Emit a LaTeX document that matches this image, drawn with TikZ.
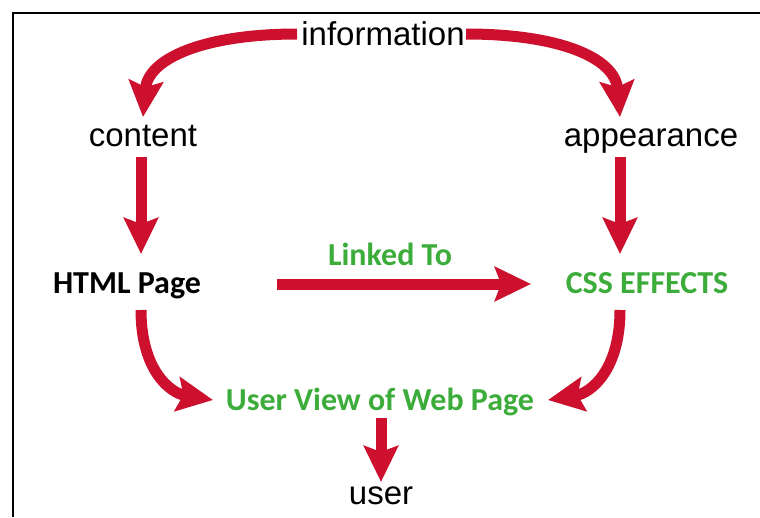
\documentclass[tikz,border=0pt]{standalone}
\usepackage{fontspec}
\setmainfont{Liberation Sans}
\newfontfamily\calib{Carlito}[BoldFont={Carlito Bold}]
\usetikzlibrary{arrows.meta}
\definecolor{arrred}{RGB}{204,16,46}
\definecolor{txtgreen}{RGB}{60,172,58}
\tikzset{
  plain/.style={anchor=base, inner sep=0pt, font=\fontsize{33}{38}\selectfont},
  boldtxt/.style={anchor=base, inner sep=0pt, font=\calib\bfseries\fontsize{32}{38}\selectfont},
  greentxt/.style={boldtxt, text=txtgreen},
  bigarrow/.style={draw=arrred, line width=11pt, -{Stealth[length=36pt,width=34pt,inset=6pt,fill=arrred]}}
}
\begin{document}
\begin{tikzpicture}[x=1pt,y=-1pt]
\useasboundingbox (0,0) rectangle (760,517);
\fill[white] (0,0) rectangle (760,517);
\draw[line width=2pt, black] (12.5,517) -- (12.5,12.5) -- (760,12.5);

\node[plain] (info) at (383,45) {information};
\node[plain] (content) at (143,146) {content};
\node[plain] (appear) at (651,146) {appearance};
\node[boldtxt] (html) at (127,293) {HTML Page};
\node[greentxt] (linked) at (390,265) {Linked To};
\node[greentxt] (css) at (647,293) {CSS EFFECTS};
\node[greentxt] (view) at (380,410) {User View of Web Page};
\node[plain] (user) at (381,504) {user};

\coordinate (infoL) at (297,34);
\coordinate (infoR) at (466,34);
\coordinate (contTop) at (143,117);
\coordinate (appTop) at (620,117);
\coordinate (contBot) at (141,157);
\coordinate (appBot) at (620,157);
\coordinate (htmlTop) at (141,254);
\coordinate (cssTop) at (620,254);
\coordinate (htmlR) at (277,284);
\coordinate (cssL) at (531,284);
\coordinate (htmlBot) at (141,310);
\coordinate (cssBot) at (620,310);
\coordinate (viewL) at (213,400);
\coordinate (viewR) at (548,400);
\coordinate (viewBot) at (381,418);
\coordinate (userTop) at (381,482);

\draw[bigarrow] (infoL) .. controls (205,34) and (148,58) .. (contTop);
\draw[bigarrow] (infoR) .. controls (560,34) and (615,58) .. (appTop);
\draw[bigarrow] (contBot) -- (htmlTop);
\draw[bigarrow] (appBot) -- (cssTop);
\draw[bigarrow] (htmlR) -- (cssL);
\draw[bigarrow] (htmlBot) .. controls (141,370) and (170,393) .. (viewL);
\draw[bigarrow] (cssBot) .. controls (620,370) and (591,393) .. (viewR);
\draw[bigarrow] (viewBot) -- (userTop);
\end{tikzpicture}
\end{document}
